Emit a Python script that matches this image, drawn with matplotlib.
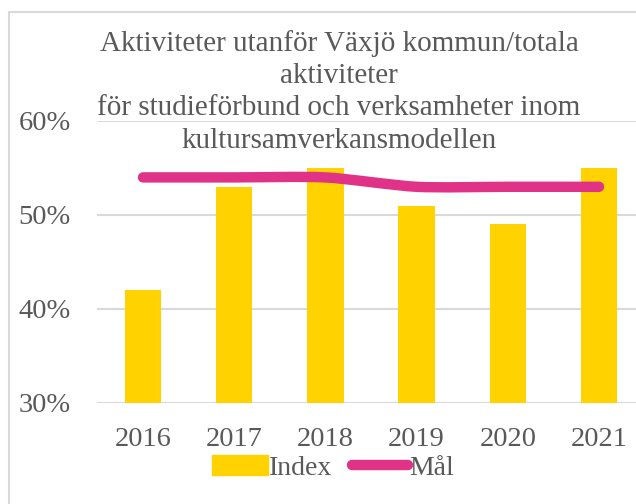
#!/usr/bin/env python3
# coding: utf-8

import numpy as np
import matplotlib

matplotlib.use("Agg")
import matplotlib.pyplot as plt
from matplotlib.path import Path
from matplotlib.patches import PathPatch, Rectangle
from matplotlib.lines import Line2D
from matplotlib.ticker import FuncFormatter

years = ["2016", "2017", "2018", "2019", "2020", "2021"]
index_vals = [0.42, 0.53, 0.55, 0.51, 0.49, 0.55]
goal_vals = [0.54, 0.54, 0.54, 0.53, 0.53, 0.53]

title = ("Aktiviteter utanför Växjö kommun/totala\naktiviteter\n"
         "för studieförbund och verksamheter inom\nkultursamverkansmodellen")

YELLOW = "#FFD200"
PINK = "#E03287"
GRID = "#D9D9D9"
TXT = "#595959"

plt.rcParams["font.family"] = ["Liberation Serif", "DejaVu Serif"]


def smooth_path(xs, ys, k=8.0):
    # excel-like smoothed line, cubic bezier between the points
    pts = np.column_stack([xs, ys]).astype(float)
    n = len(pts)
    verts = [pts[0]]
    codes = [Path.MOVETO]
    for i in range(n - 1):
        p0 = pts[max(i - 1, 0)]
        p1 = pts[i]
        p2 = pts[i + 1]
        p3 = pts[min(i + 2, n - 1)]
        c1 = p1 + (p2 - p0) / k
        c2 = p2 - (p3 - p1) / k
        verts += [c1, c2, p2]
        codes += [Path.CURVE4] * 3
    return Path(verts, codes)


fig = plt.figure(figsize=(6.36, 5.04), dpi=100)

# chart area border (clipped on right/bottom in the reference)
fig.patches.append(Rectangle((9 / 636, -0.1), 1.2, 1 - 12 / 504 + 0.1,
                             transform=fig.transFigure, fill=False,
                             edgecolor=GRID, linewidth=1.5))

ax = fig.add_axes([97.4 / 636, 1 - 403 / 504, 547.2 / 636, 282 / 504])
x = np.arange(len(years))

ax.bar(x, index_vals, width=0.4, color=YELLOW, zorder=2)
ax.add_patch(PathPatch(smooth_path(x, goal_vals), fill=False, edgecolor=PINK,
                       linewidth=7.5, capstyle="round", joinstyle="round",
                       zorder=3))

ax.set_xlim(-0.5, len(years) - 0.5)
ax.set_ylim(0.3, 0.6)
ax.set_yticks([0.3, 0.4, 0.5, 0.6])
ax.yaxis.set_major_formatter(FuncFormatter(lambda v, p: "%d%%" % round(v * 100)))
ax.set_xticks(x)
ax.set_xticklabels(years)
ax.grid(axis="y", color=GRID, linewidth=1.5, zorder=0)
ax.set_axisbelow(True)
for s in ax.spines.values():
    s.set_visible(False)
ax.tick_params(length=0, labelsize=20.5, colors=TXT)
ax.tick_params(axis="y", pad=19)
ax.tick_params(axis="x", pad=17)

fig.text(339 / 636, 1 - 30 / 504, title, ha="center", va="top",
         fontsize=21, color=TXT, linespacing=1.31)

handles = [Rectangle((0, 0), 1, 1, color=YELLOW),
           Line2D([0], [0], color=PINK, linewidth=7.5, solid_capstyle="round")]
fig.legend(handles, ["Index", "Mål"], loc="center", ncol=2,
           bbox_to_anchor=(333 / 636, 1 - 468 / 504), frameon=False,
           fontsize=20, labelcolor=TXT, handlelength=2.0, handletextpad=0.05,
           columnspacing=0.7, borderpad=0.1)

fig.savefig("out.png", dpi=100)
